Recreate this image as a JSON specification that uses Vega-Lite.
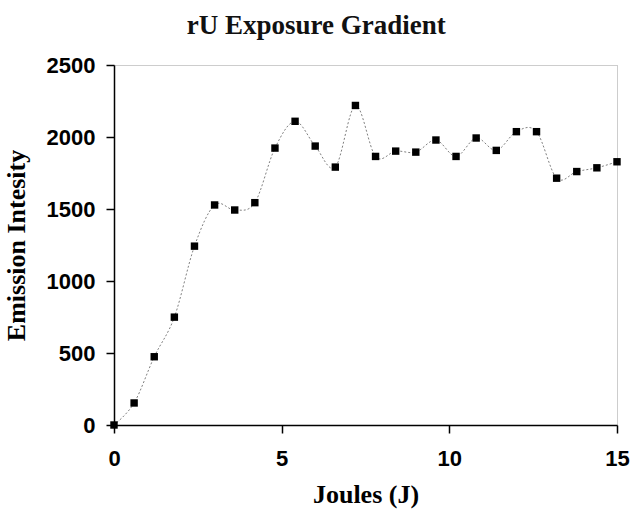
{
  "$schema": "https://vega.github.io/schema/vega-lite/v6.json",
  "width": 503,
  "height": 360,
  "autosize": {"type": "none"},
  "padding": {"left": 114, "top": 65, "right": 14, "bottom": 89},
  "background": "white",
  "config": {
    "view": {"stroke": "#9a9a9a", "strokeDash": [1, 1], "strokeWidth": 1},
    "axis": {"grid": false}
  },
  "title": {
    "text": "rU Exposure Gradient",
    "font": "Liberation Serif",
    "fontSize": 27,
    "fontWeight": "bold",
    "color": "#111",
    "anchor": "middle",
    "frame": "bounds",
    "offset": 14
  },
  "data": {
    "values": [
      {"joules": 0.0, "intensity": 0},
      {"joules": 0.6, "intensity": 153},
      {"joules": 1.2, "intensity": 474},
      {"joules": 1.8, "intensity": 749},
      {"joules": 2.4, "intensity": 1242},
      {"joules": 3.0, "intensity": 1528},
      {"joules": 3.6, "intensity": 1493},
      {"joules": 4.2, "intensity": 1544},
      {"joules": 4.8, "intensity": 1923},
      {"joules": 5.4, "intensity": 2109},
      {"joules": 6.0, "intensity": 1937},
      {"joules": 6.6, "intensity": 1791},
      {"joules": 7.2, "intensity": 2219},
      {"joules": 7.8, "intensity": 1865},
      {"joules": 8.4, "intensity": 1902},
      {"joules": 9.0, "intensity": 1895},
      {"joules": 9.6, "intensity": 1979},
      {"joules": 10.2, "intensity": 1865},
      {"joules": 10.8, "intensity": 1993},
      {"joules": 11.4, "intensity": 1907},
      {"joules": 12.0, "intensity": 2037},
      {"joules": 12.6, "intensity": 2037},
      {"joules": 13.2, "intensity": 1714},
      {"joules": 13.8, "intensity": 1760},
      {"joules": 14.4, "intensity": 1786},
      {"joules": 15.0, "intensity": 1828}
    ]
  },
  "encoding": {
    "x": {
      "field": "joules",
      "type": "quantitative",
      "scale": {"domain": [0, 15], "nice": false, "zero": false},
      "axis": {
        "title": "Joules (J)",
        "values": [0, 5, 10, 15],
        "format": "d",
        "domainColor": "#000",
        "domainWidth": 1.5,
        "tickColor": "#000",
        "tickWidth": 1.5,
        "tickSize": 8,
        "labelFont": "Liberation Sans",
        "labelFontSize": 22,
        "labelFontWeight": "bold",
        "labelColor": "#000",
        "labelPadding": 15,
        "labelFlush": false,
        "titleFont": "Liberation Serif",
        "titleFontSize": 26,
        "titleFontWeight": "bold",
        "titleColor": "#000",
        "titlePadding": 12
      }
    },
    "y": {
      "field": "intensity",
      "type": "quantitative",
      "scale": {"domain": [0, 2500], "nice": false},
      "axis": {
        "title": "Emission Intesity",
        "values": [0, 500, 1000, 1500, 2000, 2500],
        "format": "d",
        "domainColor": "#000",
        "domainWidth": 1.5,
        "tickColor": "#000",
        "tickWidth": 1.5,
        "tickSize": 8,
        "labelFont": "Liberation Sans",
        "labelFontSize": 22,
        "labelFontWeight": "bold",
        "labelColor": "#000",
        "labelPadding": 11,
        "labelFlush": false,
        "titleFont": "Liberation Serif",
        "titleFontSize": 26,
        "titleFontWeight": "bold",
        "titleColor": "#000",
        "titlePadding": 17
      }
    }
  },
  "layer": [
    {
      "mark": {
        "type": "line",
        "interpolate": "cardinal",
        "color": "#808080",
        "strokeWidth": 1,
        "strokeDash": [2, 2]
      }
    },
    {
      "mark": {
        "type": "point",
        "shape": "square",
        "filled": true,
        "color": "#000",
        "opacity": 1,
        "size": 55
      }
    }
  ]
}
